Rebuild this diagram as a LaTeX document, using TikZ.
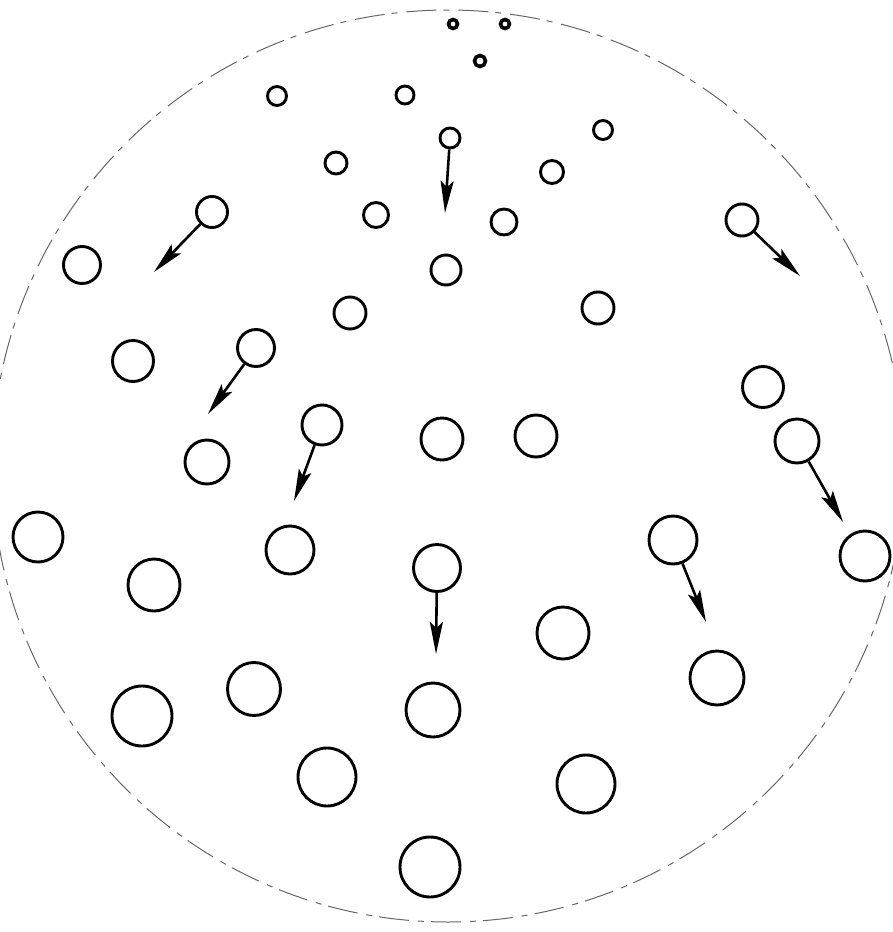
\documentclass[tikz,border=0pt]{standalone}
\usepackage{tikz}
\usetikzlibrary{arrows.meta}

\begin{document}
\begin{tikzpicture}[
    x=1pt, y=-1pt,
    ball/.style={circle, draw, line width=2.9pt, inner sep=0pt},
    dot/.style={ball, line width=3.6pt},
    rim/.style={circle, draw=black!60, line width=1pt, inner sep=0pt, dash pattern=on 30pt off 9pt on 6pt off 7pt},
    arrow/.style={-{Stealth[length=32pt, width=13pt, inset=6pt]}, line width=2.6pt},
]
    \useasboundingbox (0,0) rectangle (893,932);

    % Outer field
    \node[rim, minimum size=912pt] (field) at (448,466) {};

    % Top dots
    \node[dot, minimum size=9pt] (d1) at (453,24) {};
    \node[dot, minimum size=9pt] (d2) at (505,24) {};
    \node[dot, minimum size=11pt] (d3) at (480,61) {};

    % Circles
    \node[ball, minimum size=19pt] (c1) at (277,96) {};
    \node[ball, minimum size=18pt] (c2) at (405,95) {};
    \node[ball, minimum size=19pt] (c3) at (603,130) {};
    \node[ball, minimum size=20pt] (c4) at (450,138) {};
    \node[ball, minimum size=22pt] (c5) at (336,163) {};
    \node[ball, minimum size=23pt] (c6) at (552,172) {};
    \node[ball, minimum size=25pt] (c7) at (376,215) {};
    \node[ball, minimum size=31pt] (c8) at (212,212) {};
    \node[ball, minimum size=26pt] (c9) at (504,222) {};
    \node[ball, minimum size=32pt] (c10) at (742,220) {};
    \node[ball, minimum size=37pt] (c11) at (82,265) {};
    \node[ball, minimum size=30pt] (c12) at (446,270) {};
    \node[ball, minimum size=32pt] (c13) at (350,313) {};
    \node[ball, minimum size=32pt] (c14) at (598,308) {};
    \node[ball, minimum size=41pt] (c15) at (133,361) {};
    \node[ball, minimum size=37pt] (c16) at (256,348) {};
    \node[ball, minimum size=41pt] (c17) at (763,387) {};
    \node[ball, minimum size=40pt] (c18) at (322,425) {};
    \node[ball, minimum size=42pt] (c19) at (442,439) {};
    \node[ball, minimum size=42pt] (c20) at (536,436) {};
    \node[ball, minimum size=44pt] (c21) at (797,441) {};
    \node[ball, minimum size=44pt] (c22) at (207,462) {};
    \node[ball, minimum size=50pt] (c23) at (38,537) {};
    \node[ball, minimum size=48pt] (c24) at (290,550) {};
    \node[ball, minimum size=48pt] (c25) at (673,540) {};
    \node[ball, minimum size=50pt] (c26) at (865,556) {};
    \node[ball, minimum size=52pt] (c27) at (154,585) {};
    \node[ball, minimum size=47pt] (c28) at (437,568) {};
    \node[ball, minimum size=52pt] (c29) at (563,633) {};
    \node[ball, minimum size=54pt] (c30) at (717,678) {};
    \node[ball, minimum size=53pt] (c31) at (254,689) {};
    \node[ball, minimum size=60pt] (c32) at (142,716) {};
    \node[ball, minimum size=54pt] (c33) at (433,710) {};
    \node[ball, minimum size=58pt] (c34) at (327,777) {};
    \node[ball, minimum size=58pt] (c35) at (586,784) {};
    \node[ball, minimum size=60pt] (c36) at (430,867) {};

    % Arrow tips
    \coordinate (t4) at (445,213);
    \coordinate (t8) at (154,272);
    \coordinate (t10) at (800,276);
    \coordinate (t16) at (208,414);
    \coordinate (t18) at (294,501);
    \coordinate (t21) at (843,522);
    \coordinate (t25) at (706,622);
    \coordinate (t28) at (436,654);

    % Arrows
    \draw[arrow] (c4) -- (t4);
    \draw[arrow] (c8) -- (t8);
    \draw[arrow] (c10) -- (t10);
    \draw[arrow] (c16) -- (t16);
    \draw[arrow] (c18) -- (t18);
    \draw[arrow] (c21) -- (t21);
    \draw[arrow] (c25) -- (t25);
    \draw[arrow] (c28) -- (t28);
\end{tikzpicture}
\end{document}
